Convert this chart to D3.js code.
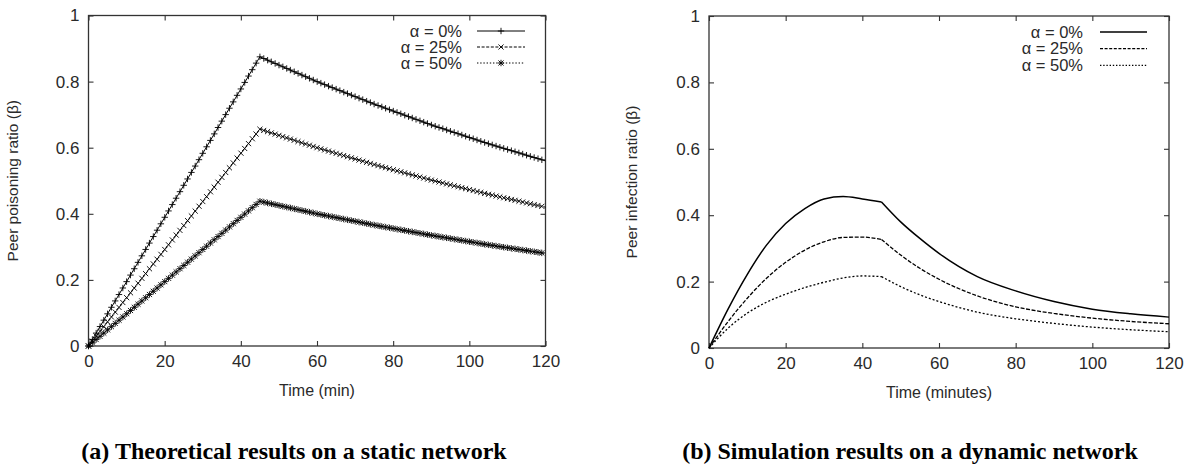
<!DOCTYPE html>
<html>
<head>
<meta charset="utf-8">
<script src="https://cdn.jsdelivr.net/npm/d3@7"></script>
<style>
body { margin: 0; background: #fff; }
svg text { font-family: "Liberation Sans", Arial, sans-serif; font-size: 16px; fill: #2a2a2a; }
svg .tick text { font-size: 17px; }
svg text.ytitle { font-size: 15.5px; }
svg text.legend { font-size: 16.5px; }
svg text.caption { font-family: "Liberation Serif", "Times New Roman", serif; font-weight: bold; font-size: 24px; fill: #000; }
</style>
</head>
<body>
<script>
var timeTicks = [0, 20, 40, 60, 80, 100, 120];
var ratioTicks = [0, 0.2, 0.4, 0.6, 0.8, 1];
var ratioLabels = ['0', '0.2', '0.4', '0.6', '0.8', '1'];
var alphaLabels = ['\u03b1 = 0%', '\u03b1 = 25%', '\u03b1 = 50%'];

// (a) theoretical results, minutes
var theoryTime = [0, 15, 30, 45, 60, 75, 90, 105, 120];
var theory0 = [0, 0.292, 0.583, 0.875, 0.800, 0.732, 0.669, 0.612, 0.560];
var theory25 = [0, 0.219, 0.437, 0.656, 0.600, 0.549, 0.502, 0.459, 0.420];
var theory50 = [0, 0.146, 0.292, 0.438, 0.400, 0.366, 0.335, 0.306, 0.280];

// (b) simulation results, minutes (attack stops at 45)
var simTime = [0, 5, 10, 15, 20, 25, 30, 35, 40, 45, 50, 55, 60, 70, 80, 90, 100, 110, 120];
var sim0 = [0, 0.118, 0.222, 0.310, 0.375, 0.420, 0.449, 0.456, 0.449, 0.440, 0.380, 0.330, 0.285, 0.215, 0.172, 0.140, 0.117, 0.103, 0.093];
var sim25 = [0, 0.080, 0.150, 0.210, 0.258, 0.295, 0.320, 0.333, 0.334, 0.327, 0.280, 0.240, 0.207, 0.157, 0.124, 0.104, 0.090, 0.080, 0.073];
var sim50 = [0, 0.060, 0.105, 0.138, 0.162, 0.182, 0.198, 0.211, 0.217, 0.215, 0.185, 0.160, 0.140, 0.108, 0.088, 0.074, 0.063, 0.055, 0.049];
var stopTime = 45;

var width = 1195, height = 468;

var svg = d3.select('body').append('svg')
    .attr('width', width)
    .attr('height', height);

var dashes = [null, '3,1.6', '1.4,1.8'];
var markers = ['plus', 'cross', 'star'];

function frame(box, xTitle, yTitle, yTitleX) {
    var x = d3.scaleLinear().domain([0, 120]).range([box.left, box.right]);
    var y = d3.scaleLinear().domain([0, 1]).range([box.bottom, box.top]);
    var g = svg.append('g');

    var ax = [
        [d3.axisBottom(x).tickValues(timeTicks).tickFormat(d3.format('d')), box.bottom, 0],
        [d3.axisTop(x).tickValues(timeTicks).tickFormat(''), box.top, 0],
        [d3.axisLeft(y).tickValues(ratioTicks).tickFormat((d, i) => ratioLabels[i]), 0, box.left],
        [d3.axisRight(y).tickValues(ratioTicks).tickFormat(''), 0, box.right]
    ];
    ax.forEach(function(a) {
        var s = g.append('g')
            .attr('transform', 'translate(' + a[2] + ',' + a[1] + ')')
            .call(a[0].tickSize(-5).tickPadding(9));
        s.select('.domain').remove();
        s.selectAll('line').attr('stroke', '#333').attr('stroke-width', 1.1);
        s.selectAll('text').attr('font-family', null).attr('font-size', null).attr('fill', null);
    });

    g.append('rect')
        .attr('x', box.left).attr('y', box.top)
        .attr('width', box.right - box.left)
        .attr('height', box.bottom - box.top)
        .attr('fill', 'none')
        .attr('stroke', '#333')
        .attr('stroke-width', 1.3);

    g.append('text')
        .attr('x', (box.left + box.right) / 2)
        .attr('y', box.bottom + 50)
        .attr('text-anchor', 'middle')
        .text(xTitle);

    g.append('text')
        .attr('class', 'ytitle')
        .attr('transform', 'translate(' + yTitleX + ',' + ((box.top + box.bottom) / 2) + ') rotate(-90)')
        .attr('text-anchor', 'middle')
        .text(yTitle);

    return {x: x, y: y, g: g};
}

function drawMarker(sel, kind, cx, cy) {
    var r = 3.2, d = '';
    if (kind === 'plus' || kind === 'star')
        d += 'M' + (cx - r) + ',' + cy + 'H' + (cx + r) + 'M' + cx + ',' + (cy - r) + 'V' + (cy + r);
    if (kind === 'cross' || kind === 'star') {
        var q = r * 0.8;
        d += 'M' + (cx - q) + ',' + (cy - q) + 'L' + (cx + q) + ',' + (cy + q) +
             'M' + (cx - q) + ',' + (cy + q) + 'L' + (cx + q) + ',' + (cy - q);
    }
    sel.append('path').attr('d', d).attr('stroke', '#000').attr('stroke-width', 0.9).attr('fill', 'none');
}

// markers every minute along the drawn curve
function markAlong(g, pathNode, x, kind) {
    var L = pathNode.getTotalLength();
    var t = 0, s = 0;
    var mg = g.append('g');
    while (s <= L && t <= 120) {
        var p = pathNode.getPointAtLength(s);
        if (p.x >= x(t) - 0.01) {
            drawMarker(mg, kind, p.x, p.y);
            t += 1;
        } else {
            s += 0.2;
        }
    }
}

function legend(g, rows, textRight, x0, x1, topY, step, withMarks, lw) {
    rows.forEach(function(label, i) {
        var yy = topY + i * step;
        g.append('text')
            .attr('class', 'legend')
            .attr('x', textRight).attr('y', yy)
            .attr('dy', '0.35em')
            .attr('text-anchor', 'end')
            .text(label);
        g.append('line')
            .attr('x1', x0).attr('x2', x1)
            .attr('y1', yy).attr('y2', yy)
            .attr('stroke', '#000')
            .attr('stroke-width', lw)
            .attr('stroke-dasharray', dashes[i]);
        if (withMarks) drawMarker(g, markers[i], (x0 + x1) / 2, yy);
    });
}

// ---- (a) theoretical ----
var A = frame({left: 88.5, right: 545.5, top: 15.5, bottom: 346},
    'Time (min)', 'Peer poisoning ratio (\u03b2)', 18);

var lineA = d3.line()
    .x(d => A.x(d[0]))
    .y(d => A.y(d[1]));

[theory0, theory25, theory50].forEach(function(vals, i) {
    var pts = theoryTime.map((t, j) => [t, vals[j]]);
    var p = A.g.append('path')
        .attr('d', lineA(pts))
        .attr('fill', 'none')
        .attr('stroke', '#000')
        .attr('stroke-width', 1)
        .attr('stroke-dasharray', dashes[i]);
    markAlong(A.g, p.node(), A.x, markers[i]);
});

legend(A.g, alphaLabels, 462, 477, 525, 31, 16, true, 1);

// ---- (b) simulation ----
var B = frame({left: 709, right: 1169, top: 16, bottom: 348},
    'Time (minutes)', 'Peer infection ratio (\u03b2)', 637);

var lineB = d3.line()
    .x(d => B.x(d[0]))
    .y(d => B.y(d[1]))
    .curve(d3.curveMonotoneX);

[sim0, sim25, sim50].forEach(function(vals, i) {
    var pts = simTime.map((t, j) => [t, vals[j]]);
    var before = pts.filter(d => d[0] <= stopTime);
    var after = pts.filter(d => d[0] >= stopTime);
    B.g.append('path')
        .attr('d', lineB(before) + lineB(after))
        .attr('fill', 'none')
        .attr('stroke', '#000')
        .attr('stroke-width', i === 0 ? 1.5 : 1.3)
        .attr('stroke-dasharray', i === 0 ? null : (i === 1 ? '4,1.6' : '2,2'));
});

legend(B.g, alphaLabels, 1083, 1100, 1147, 32, 16.7, false, 1.3);

// ---- captions ----
svg.append('text').attr('class', 'caption')
    .attr('x', 294).attr('y', 459)
    .attr('text-anchor', 'middle')
    .text('(a) Theoretical results on a static network');

svg.append('text').attr('class', 'caption')
    .attr('x', 910).attr('y', 459)
    .attr('text-anchor', 'middle')
    .text('(b) Simulation results on a dynamic network');
</script>
</body>
</html>
